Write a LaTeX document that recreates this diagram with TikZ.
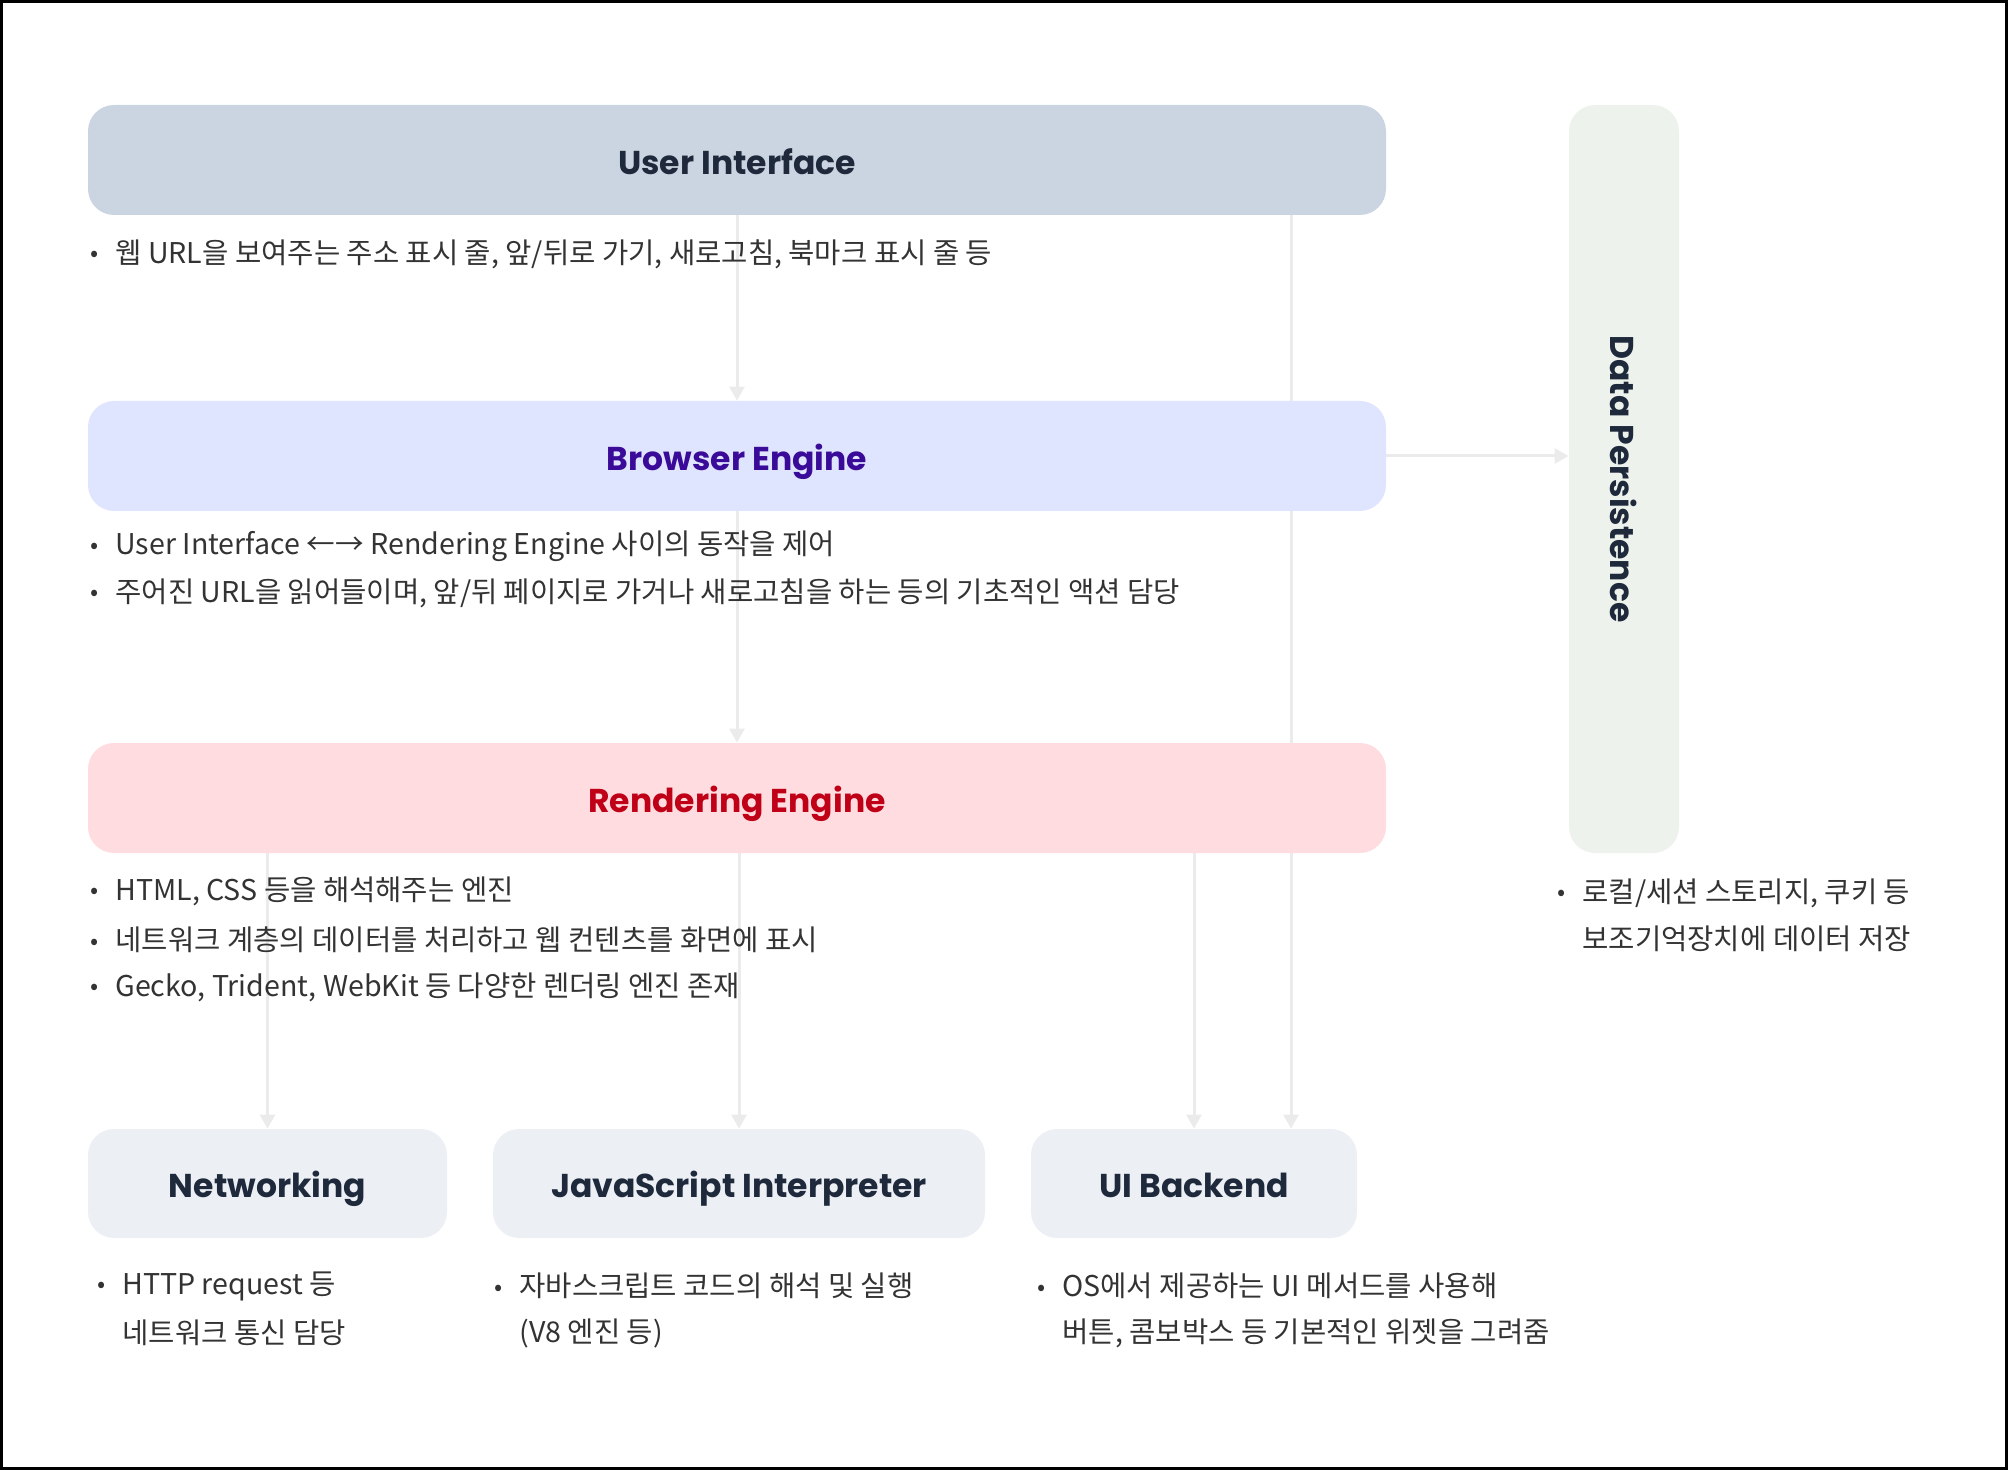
\documentclass[tikz,border=0pt]{standalone}
\usepackage{fontspec}
\usepackage{graphicx}
\setmainfont{Noto Sans CJK KR}
\newfontfamily\titlefont{Poppins}
\usetikzlibrary{arrows.meta}
\pgfdeclarelayer{bg}
\pgfsetlayers{bg,main}
\definecolor{uifill}{HTML}{CBD5E1}
\definecolor{befill}{HTML}{E0E5FF}
\definecolor{refill}{HTML}{FFDCDF}
\definecolor{subfill}{HTML}{ECEFF4}
\definecolor{dpfill}{HTML}{EDF3EC}
\definecolor{darkt}{HTML}{1E293B}
\definecolor{bet}{HTML}{3A0A99}
\definecolor{ret}{HTML}{C00017}
\definecolor{bodyc}{HTML}{333333}
\definecolor{connc}{HTML}{EBEBEB}
\newcommand{\blt}{\llap{\raisebox{0.6pt}{\fontsize{12pt}{12pt}\selectfont •}\hspace{8.5pt}}}
\begin{document}
\begin{tikzpicture}[x=0.5pt,y=-0.5pt,
  box/.style={rectangle, rounded corners=13pt, inner sep=0pt, font=\titlefont\bfseries\fontsize{16.5pt}{19pt}\selectfont, text=darkt, text height=14.1pt, text depth=0pt},
  bigbox/.style={box, minimum width=649pt, minimum height=55pt},
  subbox/.style={box, fill=subfill, minimum height=54.5pt},
  txt/.style={anchor=west, inner sep=0pt, font=\fontsize{14.3pt}{17pt}\selectfont, text=bodyc},
  conn/.style={draw=connc, line width=1.5pt, -{Triangle[width=7.5pt,length=7pt]}}]
\useasboundingbox (0,0) rectangle (2008,1470);
\draw[line width=1.4pt] (1.4,1.4) rectangle (2006.6,1468.6);

% main boxes
\node[bigbox, fill=uifill] (ui) at (737,160) {User Interface};
\node[bigbox, fill=befill, text=bet] (be) at (737,456) {Browser Engine};
\node[bigbox, fill=refill, text=ret] (re) at (737,798) {Rendering Engine};
\node[subbox, minimum width=179.5pt] (net) at (267.5,1183.5) {Networking};
\node[subbox, minimum width=246pt] (js) at (739,1183.5) {JavaScript Interpreter};
\node[subbox, minimum width=163pt] (uib) at (1194,1183.5) {UI Backend};
\node[box, fill=dpfill, minimum width=55pt, minimum height=374pt, text height=, text depth=] (dp) at (1624,479) {\rotatebox{-90}{Data Persistence}};
\coordinate (uix) at (1291,0);

% descriptions
\node[txt] (t1) at (115,254) {\blt 웹 URL을 보여주는 주소 표시 줄, 앞/뒤로 가기, 새로고침, 북마크 표시 줄 등};
\node[txt] (t2) at (115,546) {\blt User Interface ←→ Rendering Engine 사이의 동작을 제어};
\node[txt] (t3) at (115,593) {\blt 주어진 URL을 읽어들이며, 앞/뒤 페이지로 가거나 새로고침을 하는 등의 기초적인 액션 담당};
\node[txt] (t4) at (115,891) {\blt HTML, CSS 등을 해석해주는 엔진};
\node[txt] (t5) at (115,940) {\blt 네트워크 계층의 데이터를 처리하고 웹 컨텐츠를 화면에 표시};
\node[txt] (t6) at (115,987) {\blt Gecko, Trident, WebKit 등 다양한 렌더링 엔진 존재};
\node[txt] (t7) at (122,1286) {\blt HTTP request 등};
\node[txt] (t8) at (122,1333) {네트워크 통신 담당};
\node[txt] (t9) at (519,1286) {\blt 자바스크립트 코드의 해석 및 실행};
\node[txt] (t10) at (519,1333) {(V8 엔진 등)};
\node[txt] (t11) at (1062,1286) {\blt OS에서 제공하는 UI 메서드를 사용해};
\node[txt] (t12) at (1062,1333) {버튼, 콤보박스 등 기본적인 위젯을 그려줌};
\node[txt] (t13) at (1582,893) {\blt 로컬/세션 스토리지, 쿠키 등};
\node[txt] (t14) at (1582,939) {보조기억장치에 데이터 저장};

% connectors
\begin{pgfonlayer}{bg}
\draw[conn] (ui.south) -- (be.north);
\draw[conn] (be.south) -- (re.north);
\draw[conn] (ui.south -| uix) -- (uib.north -| uix);
\draw[conn] (be.east) -- (be.east -| dp.west);
\draw[conn] (re.south -| net.north) -- (net.north);
\draw[conn] (re.south -| js.north) -- (js.north);
\draw[conn] (re.south -| uib.north) -- (uib.north);
\end{pgfonlayer}
\end{tikzpicture}
\end{document}
